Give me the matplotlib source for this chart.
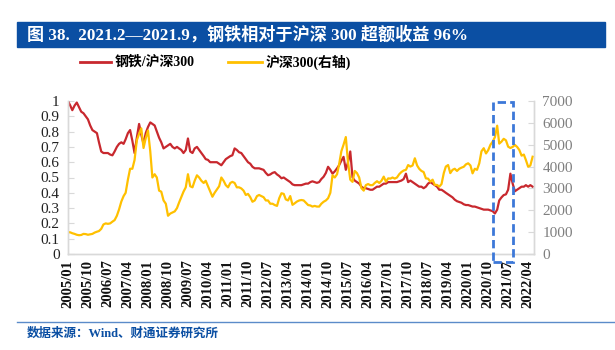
import matplotlib
matplotlib.use("Agg")
import matplotlib.pyplot as plt
from matplotlib.lines import Line2D
from matplotlib.patches import Rectangle
import pandas as pd
import numpy as np

# ---- data (monthly, 2005/01 - 2022/06) ----
start_month = "2005-01"
steel_ratio = [
    1.00, 0.97, 0.94, 0.97, 0.99, 0.96, 0.93, 0.92, 0.90, 0.88, 0.84, 0.81,
    0.80, 0.79, 0.73, 0.67, 0.66, 0.66, 0.66, 0.65, 0.645, 0.67, 0.70, 0.72,
    0.73, 0.72, 0.75, 0.79, 0.81, 0.74, 0.66, 0.76, 0.85, 0.78, 0.72, 0.79,
    0.83, 0.86, 0.85, 0.84, 0.80, 0.76, 0.73, 0.69, 0.70, 0.71, 0.72, 0.70,
    0.69, 0.70, 0.69, 0.68, 0.66, 0.68, 0.755, 0.67, 0.66, 0.69, 0.70, 0.68,
    0.66, 0.64, 0.62, 0.615, 0.60, 0.60, 0.60, 0.60, 0.59, 0.58, 0.60, 0.62,
    0.63, 0.64, 0.645, 0.69, 0.68, 0.665, 0.66, 0.64, 0.62, 0.60, 0.59, 0.57,
    0.56, 0.56, 0.56, 0.555, 0.55, 0.53, 0.515, 0.52, 0.53, 0.535, 0.52, 0.51,
    0.495, 0.50, 0.49, 0.48, 0.47, 0.455, 0.45, 0.45, 0.45, 0.45, 0.455, 0.46,
    0.46, 0.47, 0.475, 0.47, 0.465, 0.47, 0.49, 0.505, 0.53, 0.57, 0.55, 0.525,
    0.54, 0.56, 0.58, 0.61, 0.635, 0.55, 0.60, 0.67, 0.50, 0.48, 0.47, 0.46,
    0.44, 0.43, 0.43, 0.425, 0.42, 0.42, 0.43, 0.44, 0.44, 0.45, 0.46, 0.46,
    0.47, 0.47, 0.47, 0.47, 0.47, 0.475, 0.48, 0.49, 0.525, 0.47, 0.48, 0.47,
    0.46, 0.45, 0.44, 0.44, 0.43, 0.44, 0.46, 0.47, 0.46, 0.45, 0.44, 0.42,
    0.42, 0.41, 0.40, 0.39, 0.38, 0.37, 0.355, 0.345, 0.34, 0.335, 0.325, 0.32,
    0.32, 0.315, 0.31, 0.31, 0.305, 0.30, 0.295, 0.29, 0.29, 0.29, 0.285, 0.28,
    0.265, 0.29, 0.35, 0.37, 0.385, 0.39, 0.42, 0.525, 0.46, 0.41, 0.42, 0.43,
    0.44, 0.44, 0.45, 0.44, 0.45, 0.44,
]
hs300 = [
    1000, 990, 950, 920, 880, 860, 870, 920, 910, 880, 900, 920,
    980, 1020, 1050, 1150, 1350, 1400, 1380, 1400, 1480, 1550, 1750, 2040,
    2400, 2650, 2800, 3400, 3900, 3900, 4300, 5200, 5500, 5750, 4850, 5300,
    5650, 4700, 3500, 3650, 3500, 2900, 2850, 2450, 2300, 1750, 1850, 1900,
    1950, 2100, 2350, 2600, 2850, 3050, 3650, 3100, 3050, 3350, 3600, 3500,
    3350, 3250, 3350, 3100, 2850, 2620, 2800, 2950, 3100, 3500, 3350, 3150,
    3050, 3250, 3300, 3250, 3050, 3050, 3000, 2900, 2700, 2750, 2600, 2390,
    2450, 2650, 2700, 2650, 2600, 2450, 2450, 2300, 2300, 2240, 2200, 2550,
    2780, 2750, 2500, 2450, 2650, 2250, 2320, 2400, 2450, 2470, 2450, 2350,
    2240, 2220, 2170, 2200, 2170, 2170, 2300, 2390, 2450, 2550, 2800, 3600,
    3500, 3650, 4100, 4700, 5000, 5350, 4200, 3400, 3300, 3800, 3700, 3500,
    3010, 2900, 3150, 3200, 3150, 3150, 3250, 3330, 3250, 3350, 3540, 3310,
    3460, 3450, 3500, 3450, 3500, 3650, 3750, 3820, 3850, 4070, 4000, 4050,
    4380, 4050, 3900, 3800, 3750, 3460, 3450, 3310, 3400, 3160, 3160, 3080,
    3200, 3700, 4000, 4070, 3700, 3850, 3900, 3800, 3900, 3950, 3990, 4100,
    4150, 4050, 3690, 3900, 3850, 4150, 4700, 4840, 4600, 4750, 5000, 5140,
    5350, 5870, 5050, 5140, 5270, 5200, 4910, 4850, 4900, 4990, 4900, 4760,
    4500, 4550, 4300, 3990, 4050, 4450,
]
left_ticks = [0, 0.1, 0.2, 0.3, 0.4, 0.5, 0.6, 0.7, 0.8, 0.9, 1]
left_labels = ["0", "0.1", "0.2", "0.3", "0.4", "0.5", "0.6", "0.7", "0.8", "0.9", "1"]
right_ticks = [0, 1000, 2000, 3000, 4000, 5000, 6000, 7000]
x_tick_step_months = 9
highlight_start, highlight_end = "2020-12-10", "2021-09-10"

title = "图 38.  2021.2—2021.9，钢铁相对于沪深 300 超额收益 96%"
label_red = "钢铁/沪深300"
label_yel = "沪深300(右轴)"
source = "数据来源：Wind、财通证券研究所"

RED = "#C8282E"
YEL = "#FFC000"
BLUE = "#0B4FA3"
BOXC = "#3C78D8"
GRID = "#D9D9D9"

SERIF = ["Liberation Serif", "Noto Sans CJK SC"]
plt.rcParams["font.family"] = SERIF

dates = pd.date_range(start_month, periods=len(steel_ratio), freq="MS")

fig = plt.figure(figsize=(6.15, 3.5), dpi=100)
ax = fig.add_axes([68 / 615, 1 - 254 / 350, 466 / 615, 153 / 350])
ax2 = ax.twinx()

ax.plot(dates, steel_ratio, color=RED, lw=1.6)
ax2.plot(dates, hs300, color=YEL, lw=1.6)

ax.set_ylim(0, 1)
ax2.set_ylim(0, 7000)
ax.set_xlim(dates[0], pd.Timestamp("2022-06-20"))

ax.set_yticks(left_ticks)
ax.set_yticklabels(left_labels, fontsize=11, color="#222222")
ax2.set_yticks(right_ticks)
ax2.set_yticklabels([str(v) for v in right_ticks], fontsize=11, color="#7F7F7F")

xt = dates[::x_tick_step_months]
ax.set_xticks(xt)
ax.set_xticklabels([d.strftime("%Y/%m") for d in xt], rotation=90,
                   fontsize=10.5, fontweight="bold", color="#111111")
ax.tick_params(axis="x", length=0, pad=4)
ax.tick_params(axis="y", direction="in", length=4, color=GRID, pad=6)
ax2.tick_params(axis="y", direction="in", length=4, color=GRID, pad=6)

for a in (ax, ax2):
    a.spines["top"].set_visible(False)
    for s in ("left", "right", "bottom"):
        a.spines[s].set_color(GRID)
        a.spines[s].set_linewidth(1.0)

# highlight box
x0 = matplotlib.dates.date2num(pd.Timestamp(highlight_start))
x1 = matplotlib.dates.date2num(pd.Timestamp(highlight_end))
trans = matplotlib.transforms.blended_transform_factory(ax.transData, ax.transAxes)
rect = Rectangle((x0, -0.052), x1 - x0, 1.045, transform=trans, fill=False,
                 edgecolor=BOXC, lw=2, ls=(0, (3, 1.5)), clip_on=False, zorder=10)
ax2.add_patch(rect)

# title bar
fig.patches.append(Rectangle((17 / 615, 1 - 47 / 350), 588 / 615, 25 / 350,
                             transform=fig.transFigure, color=BLUE, zorder=0))
fig.text(27 / 615, 1 - 34.5 / 350, title, color="white", fontsize=12.3,
         fontweight="bold", va="center", ha="left")

# legend
ly = 1 - 62 / 350
fig.add_artist(Line2D([80 / 615, 111 / 615], [ly, ly], color=RED, lw=2, transform=fig.transFigure))
fig.text(115 / 615, ly, label_red, fontsize=10, fontweight="bold", va="center", ha="left")
fig.add_artist(Line2D([228 / 615, 262 / 615], [ly, ly], color=YEL, lw=2, transform=fig.transFigure))
fig.text(266 / 615, ly, label_yel, fontsize=10, fontweight="bold", va="center", ha="left")

# source line and text
sy = 1 - 322 / 350
fig.add_artist(Line2D([17 / 615, 1.0], [sy, sy], color="#5B8BC9", lw=1, transform=fig.transFigure))
fig.text(27 / 615, 1 - 334 / 350, source, color=BLUE, fontsize=9,
         fontweight="bold", va="center", ha="left")

fig.savefig("out.png", dpi=100)
